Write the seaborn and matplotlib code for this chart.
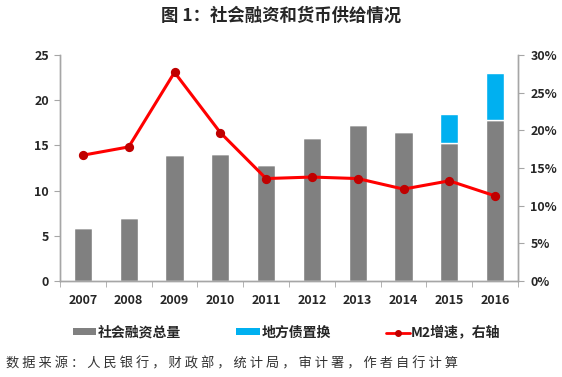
import numpy as np
import pandas as pd
import matplotlib
matplotlib.use("Agg")
import matplotlib.pyplot as plt
import seaborn as sns
from matplotlib.patches import Patch
from matplotlib.lines import Line2D
from matplotlib.ticker import PercentFormatter

# ===================== Data =====================
years = ['2007', '2008', '2009', '2010', '2011', '2012', '2013', '2014', '2015', '2016']
social_financing = [5.9, 7.0, 13.9, 14.0, 12.8, 15.8, 17.3, 16.5, 15.3, 17.8]
local_debt_swap = [0, 0, 0, 0, 0, 0, 0, 0, 3.2, 5.2]
m2_growth = [16.7, 17.8, 27.7, 19.7, 13.6, 13.8, 13.6, 12.2, 13.3, 11.3]

df = pd.DataFrame({'year': years, 'sf': social_financing,
                   'swap': local_debt_swap, 'm2': m2_growth})

GRAY = '#808080'
BLUE = '#00B0F0'
RED = '#FF0000'
DARKRED = '#C00000'
SPINE = '#A6A6A6'

sns.set_style('white')
plt.rcParams['font.family'] = ['Noto Sans CJK SC', 'DejaVu Sans']

fig = plt.figure(figsize=(5.62, 3.77), dpi=100)
ax = fig.add_axes([0.1068, 0.2546, 0.8149, 0.5995])

# ===================== Bars =====================
sns.barplot(data=df, x='year', y='sf', color=GRAY, width=0.4,
            saturation=1, ax=ax, zorder=2)
sns.barplot(data=df, x='year', y='swap', color=BLUE, width=0.4,
            saturation=1, ax=ax, bottom=df['sf'].values, zorder=2)

ax.set_ylim(0, 25)
ax.set_yticks(np.arange(0, 26, 5))
ax.set_xlim(-0.5, 9.5)

# ===================== Line on right axis =====================
ax2 = ax.twinx()
sns.pointplot(data=df, x='year', y='m2', color=RED, markers='o',
              linestyles='-', ax=ax2, markersize=5, linewidth=2.2,
              zorder=3)
for ln in ax2.lines:
    ln.set_markerfacecolor(DARKRED)
    ln.set_markeredgecolor(DARKRED)
ax2.set_ylim(0, 30)
ax2.set_yticks(np.arange(0, 31, 5))
ax2.yaxis.set_major_formatter(PercentFormatter(decimals=0))
ax2.set_xlim(-0.5, 9.5)

# ===================== Axes styling =====================
for a in (ax, ax2):
    a.set_xlabel('')
    a.set_ylabel('')
    a.spines['top'].set_visible(False)
    for s in ('left', 'right', 'bottom'):
        a.spines[s].set_color(SPINE)
        a.spines[s].set_linewidth(1)

ax.set_xticks(range(len(years)))
ax.set_xticklabels(years)
ax.set_xticks(np.arange(-0.5, 10, 1), minor=True)
ax.tick_params(axis='x', which='major', length=0, pad=9,
               labelsize=9)
ax.tick_params(axis='x', which='minor', length=4, color=SPINE,
               direction='out', bottom=True)
ax.tick_params(axis='y', length=4, color=SPINE, direction='out',
               left=True, labelsize=9, pad=4)
ax2.tick_params(axis='y', length=4, color=SPINE, direction='out',
                right=True, labelsize=9, pad=5)
for lab in ax.get_xticklabels() + ax.get_yticklabels() + ax2.get_yticklabels():
    lab.set_fontweight('bold')

# ===================== Title, legend, source =====================
fig.text(0.5, 0.958, '图 1：社会融资和货币供给情况', ha='center', va='center',
         fontsize=12.5, fontweight='bold')

handles = [
    Patch(facecolor=GRAY, edgecolor='none'),
    Patch(facecolor=BLUE, edgecolor='none'),
    Line2D([0], [0], color=RED, lw=2, marker='o', markersize=4,
           markerfacecolor=DARKRED, markeredgecolor=DARKRED),
]
labels = ['社会融资总量', '地方债置换', 'M2增速，右轴']
leg = fig.legend(handles, labels, loc='center', bbox_to_anchor=(0.51, 0.117),
                 ncol=3, frameon=False, fontsize=10, handlelength=1.7,
                 handleheight=0.4, handletextpad=0.1, columnspacing=4.0)
for t in leg.get_texts():
    t.set_fontweight('bold')

source = '数据来源：人民银行，财政部，统计局，审计署，作者自行计算'
fig.text(0.01, 0.035, ' '.join(source),
         ha='left', va='center', fontsize=9.5, color='#333333')

fig.savefig('out.png', dpi=100, facecolor='white')
